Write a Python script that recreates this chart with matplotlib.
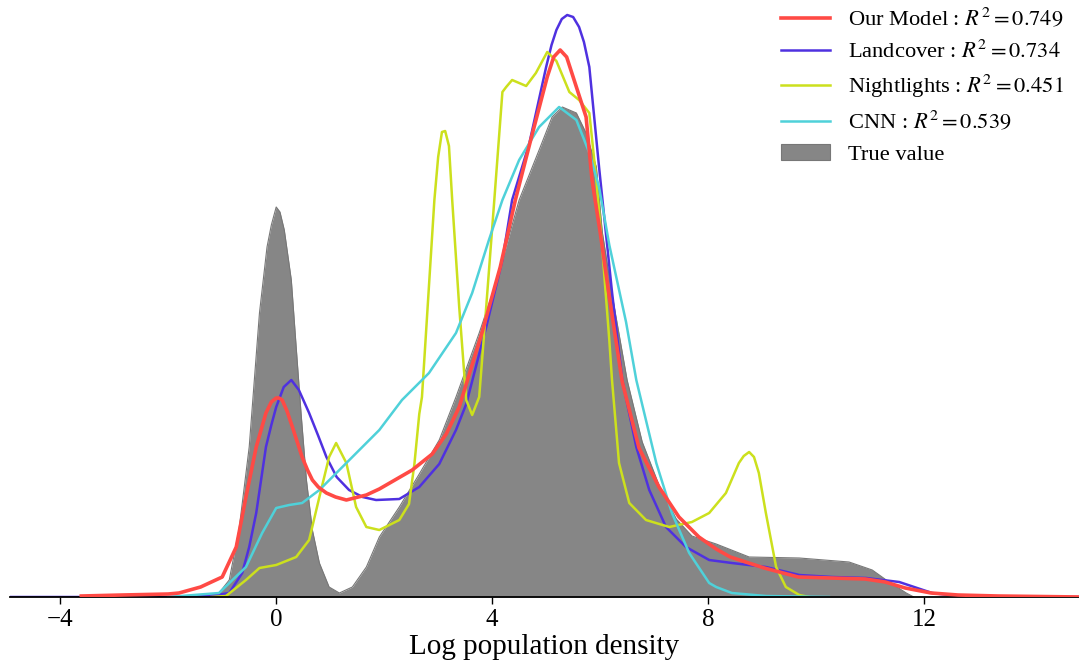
import numpy as np
import matplotlib
matplotlib.use("Agg")
from matplotlib import pyplot as plt
from matplotlib.patches import Patch

plt.rcParams['font.family'] = ['Liberation Serif', 'DejaVu Serif']
plt.rcParams['mathtext.fontset'] = 'stix'

# density curves of log population density, x = log density, y = density
true_x = [-1.15, -1.06, -0.87, -0.69, -0.50, -0.31, -0.17, -0.09, 0.00, 0.07, 0.15, 0.28, 0.37,
          0.46, 0.56, 0.67, 0.80, 0.98, 1.17, 1.41, 1.67, 1.91, 2.28, 2.65, 3.02, 3.33, 3.76,
          4.07, 4.50, 4.87, 5.11, 5.30, 5.56, 5.74, 5.93, 6.04, 6.22, 6.50, 6.78, 7.09, 7.41,
          7.70, 8.15, 8.76, 9.69, 10.61, 11.04, 11.30, 11.67, 11.81]
true_y = [0.000, 0.004, 0.017, 0.067, 0.150, 0.284, 0.350, 0.372, 0.390, 0.385, 0.367, 0.317, 0.250,
          0.184, 0.117, 0.067, 0.034, 0.010, 0.004, 0.010, 0.030, 0.060, 0.090, 0.123, 0.157, 0.200, 0.264,
          0.314, 0.397, 0.447, 0.480, 0.490, 0.484, 0.464, 0.430, 0.365, 0.303, 0.217, 0.155, 0.112, 0.078,
          0.061, 0.053, 0.040, 0.039, 0.035, 0.027, 0.017, 0.004, 0.000]

model_x = [-3.61, -2.85, -2.00, -1.80, -1.40, -1.00, -0.74, -0.56, -0.37, -0.19, -0.09, 0.00, 0.05,
           0.11, 0.20, 0.30, 0.39, 0.48, 0.58, 0.67, 0.78, 0.93, 1.10, 1.30, 1.67, 1.91, 2.52,
           2.89, 3.15, 3.39, 3.81, 4.15, 4.43, 4.70, 5.02, 5.14, 5.26, 5.38, 5.50, 5.74, 5.85,
           6.00, 6.17, 6.41, 6.72, 7.09, 7.46, 7.83, 8.15, 8.41, 9.04, 9.67, 10.28, 10.91, 11.28,
           11.65, 12.13, 12.63, 13.37, 14.90]
model_y = [0.001, 0.002, 0.003, 0.004, 0.010, 0.020, 0.050, 0.100, 0.150, 0.184, 0.195, 0.199, 0.199,
           0.197, 0.186, 0.170, 0.155, 0.140, 0.127, 0.117, 0.110, 0.104, 0.100, 0.097, 0.102, 0.108, 0.127,
           0.143, 0.163, 0.190, 0.264, 0.330, 0.397, 0.454, 0.520, 0.540, 0.547, 0.540, 0.520, 0.480, 0.417,
           0.365, 0.300, 0.215, 0.149, 0.110, 0.080, 0.060, 0.048, 0.040, 0.029, 0.020, 0.019, 0.018, 0.015,
           0.009, 0.004, 0.002, 0.001, 0.000]

land_x = [-4.95, -2.00, -1.37, -1.10, -0.87, -0.63, -0.50, -0.37, -0.19, -0.09, 0.00, 0.14, 0.28,
          0.42, 0.61, 0.78, 0.93, 1.12, 1.35, 1.60, 1.85, 2.28, 2.65, 3.02, 3.33, 3.52, 3.89,
          4.19, 4.37, 4.69, 5.00, 5.10, 5.19, 5.29, 5.39, 5.50, 5.61, 5.70, 5.80, 5.98, 6.22,
          6.41, 6.67, 6.91, 7.22, 7.59, 8.02, 8.44, 9.07, 9.69, 10.30, 10.93, 11.54, 12.15, 12.60,
          13.50, 14.90]
land_y = [0.000, 0.000, 0.001, 0.002, 0.004, 0.024, 0.050, 0.084, 0.150, 0.172, 0.190, 0.210, 0.217,
          0.207, 0.184, 0.161, 0.140, 0.120, 0.107, 0.100, 0.097, 0.098, 0.110, 0.133, 0.167, 0.193, 0.270,
          0.337, 0.397, 0.454, 0.530, 0.552, 0.567, 0.578, 0.582, 0.580, 0.570, 0.555, 0.530, 0.430, 0.305,
          0.217, 0.150, 0.107, 0.070, 0.050, 0.037, 0.034, 0.030, 0.022, 0.020, 0.019, 0.015, 0.004, 0.001,
          0.000, 0.000]

night_x = [-1.20, -0.93, -0.56, -0.31, 0.00, 0.37, 0.61, 0.80, 0.98, 1.11, 1.30, 1.48, 1.67,
           1.91, 2.28, 2.46, 2.56, 2.65, 2.70, 2.93, 3.00, 3.07, 3.13, 3.20, 3.26, 3.39, 3.52,
           3.63, 3.76, 3.89, 4.04, 4.19, 4.26, 4.37, 4.63, 4.81, 5.02, 5.19, 5.43, 5.61, 5.80,
           5.93, 6.04, 6.17, 6.22, 6.35, 6.54, 6.85, 7.28, 7.70, 8.02, 8.33, 8.57, 8.66, 8.76,
           8.85, 8.94, 9.07, 9.26, 9.44, 9.69, 9.87]
night_y = [0.000, 0.001, 0.017, 0.029, 0.032, 0.040, 0.057, 0.100, 0.140, 0.154, 0.134, 0.090, 0.070,
           0.067, 0.077, 0.093, 0.133, 0.183, 0.200, 0.397, 0.440, 0.465, 0.466, 0.451, 0.397, 0.290, 0.197,
           0.182, 0.200, 0.290, 0.397, 0.505, 0.510, 0.517, 0.511, 0.524, 0.545, 0.536, 0.505, 0.497, 0.484,
           0.417, 0.348, 0.257, 0.217, 0.134, 0.094, 0.077, 0.070, 0.075, 0.084, 0.104, 0.134, 0.141, 0.145,
           0.140, 0.124, 0.084, 0.030, 0.010, 0.002, 0.000]

cnn_x = [-2.00, -1.06, -0.56, -0.26, 0.00, 0.24, 0.48, 0.80, 1.17, 1.54, 1.91, 2.33, 2.83,
         3.33, 3.63, 3.94, 4.19, 4.50, 4.87, 5.24, 5.56, 5.80, 5.98, 6.17, 6.48, 6.67, 7.04,
         7.33, 7.65, 8.02, 8.15, 8.44, 9.07, 10.24]
cnn_y = [0.000, 0.004, 0.030, 0.064, 0.089, 0.092, 0.094, 0.107, 0.127, 0.147, 0.167, 0.197, 0.224,
         0.264, 0.304, 0.357, 0.397, 0.437, 0.470, 0.490, 0.477, 0.444, 0.410, 0.352, 0.275, 0.217, 0.134,
         0.084, 0.044, 0.014, 0.010, 0.004, 0.001, 0.000]

r2 = {'Our Model': 0.749, 'Landcover': 0.734, 'Nightlights': 0.451, 'CNN': 0.539}

c_model = '#ff4a45'
c_land = '#4f31e0'
c_night = '#cce01d'
c_cnn = '#4fd1d9'
c_true = '#868686'

fig = plt.figure(figsize=(10.79, 6.66), dpi=100)
ax = fig.add_axes([0.0093, 0.1036, 0.9907, 0.8964])

ax.fill_between(true_x, true_y, color=c_true, lw=0, zorder=1)
ax.plot(true_x, true_y, color='#777777', lw=0.8, zorder=1.5)

ax.plot(land_x, land_y, color=c_land, lw=1.8, zorder=2)
ax.plot(night_x, night_y, color=c_night, lw=1.8, zorder=2)
ax.plot(cnn_x, cnn_y, color=c_cnn, lw=1.8, zorder=2)
ax.plot(model_x, model_y, color=c_model, lw=2.6, zorder=3)

ax.set_xlim(-4.93, 14.87)
ax.set_ylim(0, 0.597)
ax.set_xticks([-4, 0, 4, 8, 12])
ax.set_yticks([])
for s in ['left', 'top', 'right']:
    ax.spines[s].set_visible(False)
ax.spines['bottom'].set_linewidth(1.3)
ax.tick_params(axis='x', labelsize=18, length=5, width=1.0)
ax.set_xlabel('Log population density', fontsize=21, labelpad=2)

handles = [
    plt.Line2D([], [], color=c_model, lw=2.6),
    plt.Line2D([], [], color=c_land, lw=1.8),
    plt.Line2D([], [], color=c_night, lw=1.8),
    plt.Line2D([], [], color=c_cnn, lw=1.8),
    Patch(facecolor=c_true, edgecolor='#777777', lw=0.8),
]
labels = ['%s : $R^2=%.3f$' % (k, v) for k, v in r2.items()] + ['True value']
ax.legend(handles, labels, loc='upper right', bbox_to_anchor=(1.005, 1.022), frameon=False,
          fontsize=16.2, handlelength=2.2, labelspacing=0.45, handletextpad=0.8)

plt.savefig('out.png', dpi=100)
